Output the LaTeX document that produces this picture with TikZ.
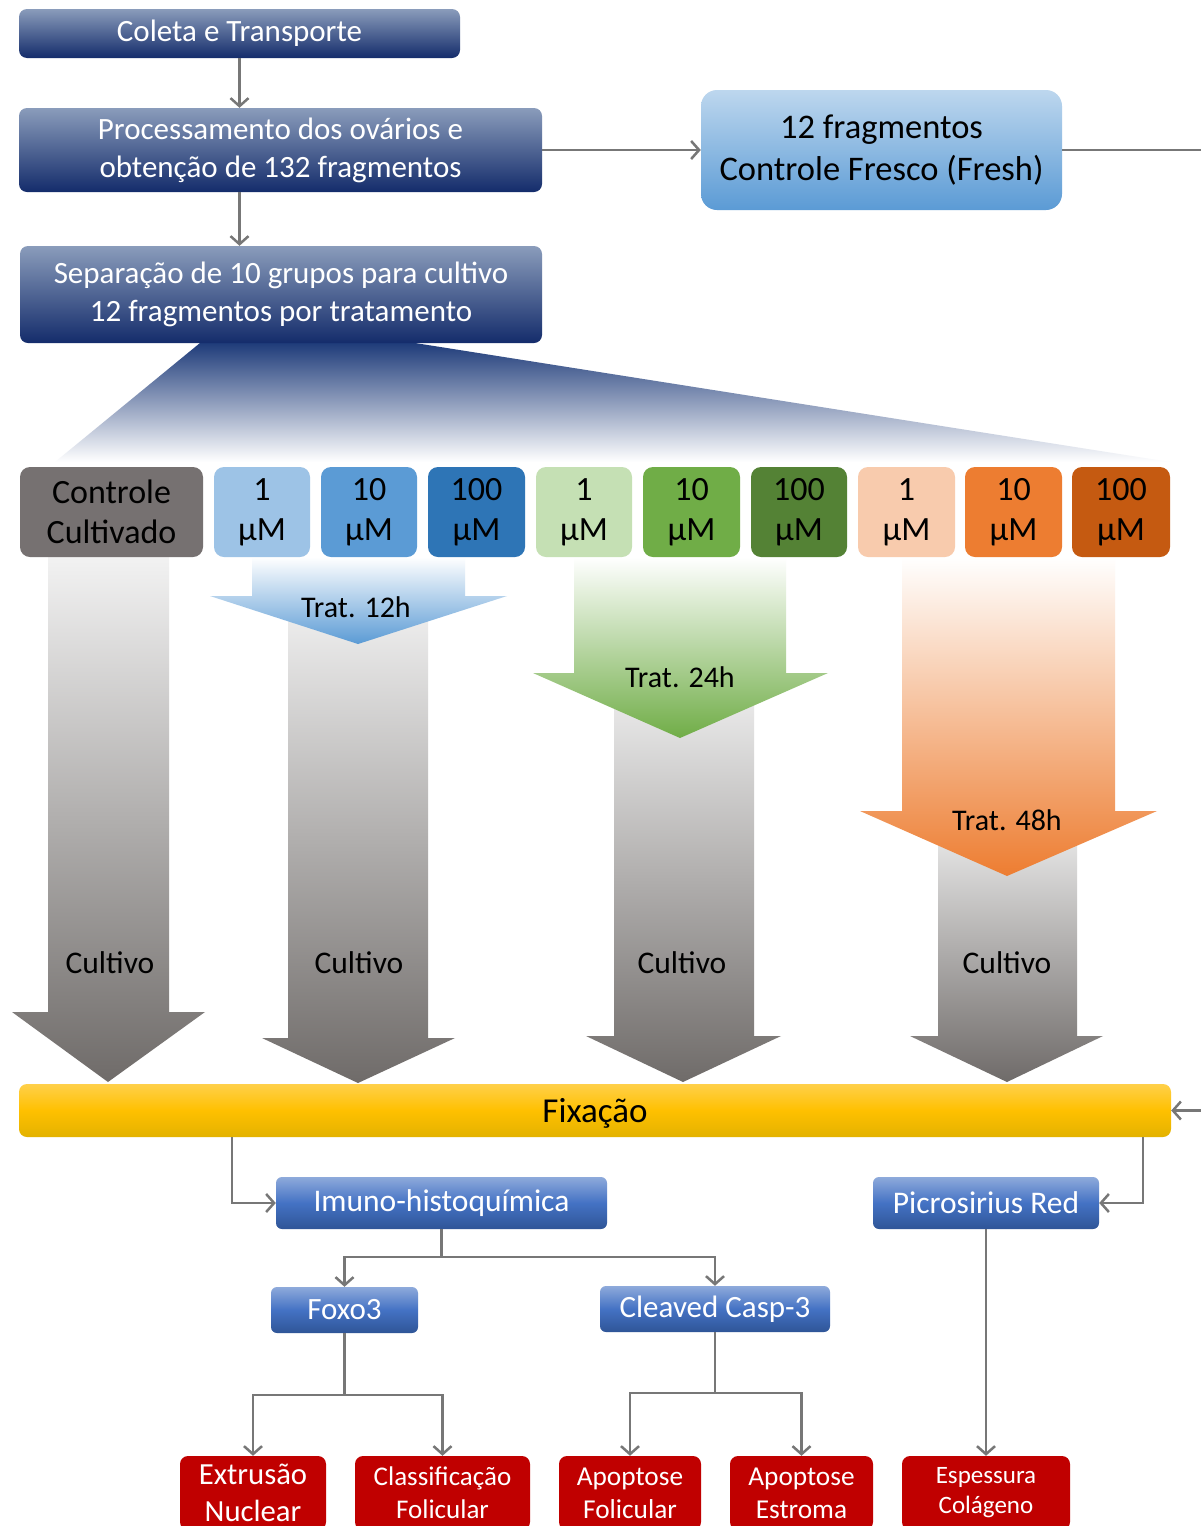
\documentclass[tikz,border=0pt]{standalone}
\usepackage{fontspec}
\setmainfont{Carlito}
\usetikzlibrary{arrows.meta}
\definecolor{dkT}{HTML}{8A9CBB}
\definecolor{dkB}{HTML}{142C6B}
\definecolor{frT}{HTML}{BDD7EE}
\definecolor{frB}{HTML}{5B9BD5}
\definecolor{mbT}{HTML}{8EAADB}
\definecolor{mbM}{HTML}{4472C4}
\definecolor{mbB}{HTML}{2F5597}
\definecolor{redbox}{HTML}{C00000}
\definecolor{fxT}{HTML}{FFD04A}
\definecolor{fxM}{HTML}{FFC000}
\definecolor{fxB}{HTML}{E3B200}
\definecolor{ctrl}{HTML}{767171}
\definecolor{fan}{HTML}{1F3C7A}
\definecolor{gyT}{HTML}{F2F2F2}
\definecolor{gyB}{HTML}{6F6B69}
\definecolor{b1}{HTML}{9DC3E6}
\definecolor{b2}{HTML}{5B9BD5}
\definecolor{b3}{HTML}{2E75B6}
\definecolor{g1}{HTML}{C5E0B4}
\definecolor{g2}{HTML}{70AD47}
\definecolor{g3}{HTML}{548235}
\definecolor{o1}{HTML}{F8CBAD}
\definecolor{o2}{HTML}{ED7D31}
\definecolor{o3}{HTML}{C55A11}
\definecolor{conncol}{HTML}{777777}
\tikzset{
  darkbox/.style={rounded corners=8pt, top color=dkT, bottom color=dkB, text=white, align=center, inner sep=0pt, font=\fontsize{31}{38}\selectfont},
  freshbox/.style={rounded corners=16pt, top color=frT, bottom color=frB, text=black, align=center, inner sep=0pt, font=\fontsize{34.5}{42}\selectfont},
  grpbox/.style={rounded corners=10pt, fill=#1, text=black, align=center, inner sep=0pt, minimum height=90pt, font=\fontsize{34}{40}\selectfont},
  midbox/.style={rounded corners=6pt, top color=mbT, bottom color=mbB, middle color=mbM, text=white, align=center, inner sep=0pt, minimum height=50pt, font=\fontsize{31.5}{36}\selectfont},
  redb/.style={rounded corners=8pt, fill=redbox, text=white, align=center, inner sep=0pt, minimum height=74pt},
  fixbox/.style={rounded corners=8pt, top color=fxT, bottom color=fxB, middle color=fxM, text=black, inner sep=0pt, font=\fontsize{35}{40}\selectfont},
  lbl/.style={text=black, inner sep=0pt, font=\fontsize{31.5}{36}\selectfont},
  conn/.style={draw=conncol, line width=2.5pt, -{Straight Barb[length=8pt,width=18pt]}},
  plain/.style={draw=conncol, line width=2.5pt},
  grayarrow/.style={top color=gyT, bottom color=gyB},
}
\begin{document}
\begin{tikzpicture}[x=1pt,y=-1pt]
\useasboundingbox (0,0) rectangle (1200,1526);
\fill[white] (0,0) rectangle (1200,1526);

% fan
\shade[top color=fan, bottom color=white] (200,343) -- (415,343) -- (1170,462) -- (55,462) -- cycle;

% gray block arrows
\shade[grayarrow] (48,557) -- (169,557) -- (169,1012) -- (205,1012) -- (108,1082) -- (12,1012) -- (48,1012) -- cycle;
\shade[grayarrow] (288,596) -- (428,596) -- (428,1038) -- (455,1038) -- (358,1083) -- (262,1038) -- (288,1038) -- cycle;
\shade[grayarrow] (614,673) -- (754,673) -- (754,1036) -- (781,1036) -- (683,1082) -- (586,1036) -- (614,1036) -- cycle;
\shade[grayarrow] (938,811) -- (1077,811) -- (1077,1036) -- (1103,1036) -- (1007,1082) -- (910,1036) -- (938,1036) -- cycle;

% treatment arrows
\shade[top color=white, bottom color=b2] (252,557) -- (465,557) -- (465,596) -- (507,596) -- (358,644) -- (210,596) -- (252,596) -- cycle;
\shade[top color=white, bottom color=g2] (574,557) -- (786,557) -- (786,673) -- (828,673) -- (680,738) -- (533,673) -- (574,673) -- cycle;
\shade[top color=white, bottom color=o2] (902,557) -- (1115,557) -- (1115,811) -- (1157,811) -- (1007,876) -- (860,811) -- (902,811) -- cycle;

% top boxes
\node[darkbox, minimum width=441pt, minimum height=49pt] (coleta) at (239.5,33.5) {Coleta e Transporte};
\node[darkbox, minimum width=523pt, minimum height=84pt] (proc) at (280.5,150) {Processamento dos ovários e\\obtenção de 132 fragmentos};
\node[darkbox, minimum width=522pt, minimum height=97pt] (sep) at (281,294.5) {Separação de 10 grupos para cultivo\\12 fragmentos por tratamento};
\node[freshbox, minimum width=361pt, minimum height=120pt] (fresh) at (881.5,150) {12 fragmentos\\Controle Fresco (Fresh)};

% group boxes
\node[grpbox=ctrl, minimum width=183pt] (g0) at (111.5,512) {Controle\\Cultivado};
\node[grpbox=b1, minimum width=96pt] (ga) at (262,512) {1\\µM};
\node[grpbox=b2, minimum width=96pt] (gb) at (369,512) {10\\µM};
\node[grpbox=b3, minimum width=97pt] (gc) at (476.5,512) {100\\µM};
\node[grpbox=g1, minimum width=96pt] (gd) at (584,512) {1\\µM};
\node[grpbox=g2, minimum width=97pt] (ge) at (691.5,512) {10\\µM};
\node[grpbox=g3, minimum width=96pt] (gf) at (799,512) {100\\µM};
\node[grpbox=o1, minimum width=97pt] (gg) at (906.5,512) {1\\µM};
\node[grpbox=o2, minimum width=97pt] (gh) at (1013.5,512) {10\\µM};
\node[grpbox=o3, minimum width=98pt] (gi) at (1121,512) {100\\µM};

% labels on arrows
\node[lbl, font=\fontsize{30}{36}\selectfont] (t12) at (356,607) {Trat. 12h};
\node[lbl, font=\fontsize{30}{36}\selectfont] (t24) at (680,677) {Trat. 24h};
\node[lbl, font=\fontsize{30}{36}\selectfont] (t48) at (1007,820) {Trat. 48h};
\node[lbl] (c1) at (110,963) {Cultivo};
\node[lbl] (c2) at (359,963) {Cultivo};
\node[lbl] (c3) at (682,963) {Cultivo};
\node[lbl] (c4) at (1007,963) {Cultivo};

% fixation
\node[fixbox, minimum width=1152pt, minimum height=53pt, text depth=0pt] (fix) at (595,1110.5) {Fixação};

% analysis boxes
\node[midbox, minimum width=331pt, minimum height=52pt] (imuno) at (441.5,1203) {Imuno-histoquímica};
\node[midbox, minimum width=226pt, minimum height=52pt] (picro) at (986,1203) {Picrosirius Red};
\node[midbox, minimum width=147pt, minimum height=46pt, font=\fontsize{31}{34}\selectfont] (foxo) at (344.5,1310) {Foxo3};
\node[midbox, minimum width=230pt, minimum height=46pt, font=\fontsize{31}{34}\selectfont] (casp) at (715,1309) {Cleaved Casp-3};

% result boxes
\node[redb, minimum width=146pt, font=\fontsize{30.7}{37}\selectfont] (r1) at (253,1493) {Extrusão\\Nuclear};
\node[redb, minimum width=175pt, font=\fontsize{27}{33}\selectfont] (r2) at (442.5,1493) {Classificação\\Folicular};
\node[redb, minimum width=142pt, font=\fontsize{27.3}{33}\selectfont] (r3) at (630,1493) {Apoptose\\Folicular};
\node[redb, minimum width=143pt, font=\fontsize{27.3}{33}\selectfont] (r4) at (801.5,1493) {Apoptose\\Estroma};
\node[redb, minimum width=168pt, font=\fontsize{25}{30}\selectfont] (r5) at (986,1493) {Espessura\\Colágeno};

% connectors
\draw[conn] (coleta.south) -- (coleta.south |- proc.north);
\draw[conn] (proc.south -| coleta.south) -- (sep.north -| coleta.south);
\draw[conn] (proc.east) -- (proc.east -| fresh.west);
\coordinate (offA) at (1215,150);
\coordinate (offB) at (1215,1110.5);
\draw[conn] (fresh.east) -- (offA) -- (offB) -- (fix.east);
\draw[conn] ([xshift=213pt]fix.south west) |- (imuno.west);
\draw[conn] ([xshift=-28pt]fix.south east) |- (picro.east);
\coordinate (j1) at (441.5,1257);
\draw[plain] (imuno.south) -- (j1);
\draw[conn] (j1) -| (foxo.north);
\draw[conn] (j1) -| (casp.north);
\coordinate (j2) at (344.5,1395);
\draw[plain] (foxo.south) -- (j2);
\draw[conn] (j2) -| (r1.north);
\draw[conn] (j2) -| (r2.north);
\coordinate (j3) at (715,1393);
\draw[plain] (casp.south) -- (j3);
\draw[conn] (j3) -| (r3.north);
\draw[conn] (j3) -| (r4.north);
\draw[conn] (picro.south) -- (r5.north);
\end{tikzpicture}
\end{document}
